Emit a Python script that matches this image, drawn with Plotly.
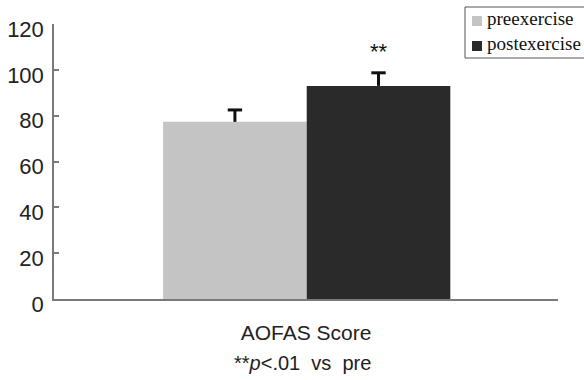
import plotly.graph_objects as go

# ---- data ----
category = "AOFAS Score"
series_names = ["preexercise", "postexercise"]
values = [77.3, 93.0]
errors = [5.2, 5.7]
y_tickvals = [0, 20, 40, 60, 80, 100, 120]
sig_labels = ["", "**"]
footnote = "**<i>p</i><.01\u00a0\u00a0vs\u00a0\u00a0pre"
colors = ["#c4c4c4", "#292a29"]

W, H = 584, 380
L, R, T, B = 54, 26, 24, 81
PW, PH = W - L - R, H - T - B

# x layout (data units): bars of width 1 centred at their index
positions = list(range(len(values)))
x_range = [-1.26, 2.25]
cap = 0.05


def px(x):
    return (x - L) / PW


def py(y):
    return (H - B - y) / PH


fig = go.Figure()
for i, (name, v, e, c) in enumerate(zip(series_names, values, errors, colors)):
    p = positions[i]
    fig.add_trace(go.Bar(x=[p], y=[v], width=1, name=name, marker_color=c,
                         marker_line_width=0, showlegend=False))
    # upper-only error bar (stem + cap)
    fig.add_trace(go.Scatter(
        x=[p, p, None, p - cap, p + cap], y=[v, v + e, None, v + e, v + e],
        mode="lines", line=dict(color="#111", width=3), showlegend=False,
        hoverinfo="skip"))
    if sig_labels[i]:
        fig.add_annotation(x=p, y=v + e, yshift=21, xref="x", yref="y",
                           text=sig_labels[i], showarrow=False,
                           font=dict(size=22, color="#111"))

fig.update_layout(
    width=W, height=H,
    margin=dict(l=L, r=R, t=T, b=B, pad=0, autoexpand=False),
    paper_bgcolor="white", plot_bgcolor="white",
    showlegend=False,
    font=dict(family="Liberation Sans, Arial, sans-serif", color="#222"),
)
fig.update_xaxes(
    range=x_range, tickvals=x_range, ticktext=["", ""], automargin=False,
    showline=True, linecolor="#7a7a7a", linewidth=1.5,
    showgrid=False, zeroline=False,
    ticks="inside", ticklen=6, tickcolor="#7a7a7a", tickwidth=1.5,
    title=dict(text=category, font=dict(size=21, color="#222"), standoff=23),
)
fig.update_yaxes(
    range=[0, 120], tickvals=y_tickvals, automargin=False,
    showline=True, linecolor="#7a7a7a", linewidth=1.5,
    showgrid=False, zeroline=False,
    ticks="inside", ticklen=5, tickcolor="#7a7a7a", tickwidth=1.5,
    tickfont=dict(size=22, color="#222"),
    ticklabelstandoff=4, ticklabelshift=5,
)

# footnote
fig.add_annotation(
    x=px(302), y=py(363), xref="paper", yref="paper", text=footnote,
    showarrow=False, font=dict(size=20, color="#222"),
    xanchor="center", yanchor="middle",
)

# manual legend
fig.add_shape(type="rect", xref="paper", yref="paper",
              x0=px(465), x1=px(592), y0=py(58), y1=py(7),
              line=dict(color="#555", width=1), fillcolor="white", layer="above")
for name, color, cy in [(series_names[0], colors[0], 21), (series_names[1], colors[1], 46)]:
    fig.add_shape(type="rect", xref="paper", yref="paper",
                  x0=px(472), x1=px(482), y0=py(cy + 5), y1=py(cy - 5),
                  line=dict(width=0), fillcolor=color, layer="above")
    fig.add_annotation(x=px(485), y=py(cy - 3), xref="paper", yref="paper",
                       text=name, showarrow=False, xanchor="left", yanchor="middle",
                       font=dict(size=19, color="#111",
                                 family="Liberation Serif, Times New Roman, serif"))

fig.write_html("out.html", config={"displayModeBar": False},
               post_script="document.body.style.margin='0';document.body.style.overflow='hidden';")
